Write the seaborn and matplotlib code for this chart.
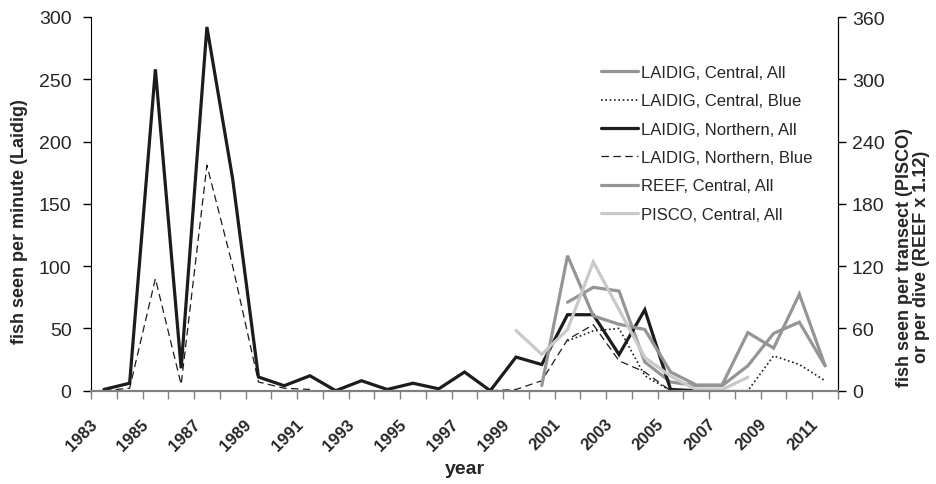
import numpy as np
import pandas as pd
import matplotlib
matplotlib.use('Agg')
import matplotlib.pyplot as plt
import matplotlib.transforms as mtransforms
from matplotlib.lines import Line2D
import seaborn as sns

# values, one per year 1983..2011 (nan = no survey)
nan = np.nan
years = list(range(1983, 2012))
laidig_central_all = [nan] * 18 + [71, 83, 80, 23, 7, 4, 4, 20, 46, 55, 20]
laidig_central_blue = [nan] * 18 + [40, 48, 50, 12, 0, 0, 0, 0, 28, 21, 8]
laidig_northern_all = [1, 6, 258, 18, 292, 170, 11, 4, 12, 0,
                       8, 1, 6, 1.5, 15, 0, 27, 21, 61, 61,
                       29, 65, 1, 0, 0, nan, nan, nan, nan]
laidig_northern_blue = [0, 2, 90, 5, 181, 100, 7, 2, 1,
                        nan, nan, nan, nan, nan, nan,
                        0, 1, 8, 41, 53, 24, 15, 0,
                        nan, nan, nan, nan, nan, nan]
# right axis (fish per transect / per dive)
reef_central_all = [nan] * 17 + [5, 130, 72, 64, 59, 18, 5.5, 5.5, 56, 41, 93, 24]
pisco_central_all = [nan] * 16 + [58, 35, 59, 124, 78, 32, 14, 1, 1, 13] + [nan] * 3

year_labels = [str(y) for y in years[::2]]


def segments(values):
    # split a series at its gaps so the line breaks there
    df = pd.DataFrame({'year': years, 'value': values})
    df['seg'] = df['value'].isna().cumsum()
    return df.dropna()


sns.set_style('white')
plt.rcParams['font.family'] = ['Liberation Sans', 'DejaVu Sans']

fig = plt.figure(figsize=(9.37, 4.85), dpi=100)
ax = fig.add_axes([91 / 937, 1 - 391.7 / 485, 747 / 937, 373.7 / 485])
ax2 = ax.twinx()

GRAY = '#959595'
LIGHT = '#c9c9c9'
DARK = '#1c1c1c'

styles = [
    ('LAIDIG, Central, All', laidig_central_all, ax, dict(color=GRAY, lw=2.3, ls='-')),
    ('LAIDIG, Central, Blue', laidig_central_blue, ax, dict(color=DARK, lw=1.2, ls=(0, (1, 1.6)))),
    ('LAIDIG, Northern, All', laidig_northern_all, ax, dict(color=DARK, lw=2.3, ls='-')),
    ('LAIDIG, Northern, Blue', laidig_northern_blue, ax, dict(color=DARK, lw=0.9, ls=(0, (6, 3.5)))),
    ('REEF, Central, All', reef_central_all, ax2, dict(color=GRAY, lw=2.3, ls='-')),
    ('PISCO, Central, All', pisco_central_all, ax2, dict(color=LIGHT, lw=2.3, ls='-')),
]

handles = []
for name, vals, a, st in styles:
    sns.lineplot(data=segments(vals), x='year', y='value', units='seg',
                 estimator=None, ax=a, color=st['color'], linewidth=st['lw'],
                 linestyle=st['ls'], solid_joinstyle='miter')
    handles.append(Line2D([], [], color=st['color'], lw=st['lw'], ls=st['ls']))

ax.set_xlim(1982.5, 2011.5)
ax.set_ylim(0, 300)
ax2.set_ylim(0, 360)
ax.set_yticks(range(0, 301, 50))
ax2.set_yticks(range(0, 361, 60))

# category-style x axis: ticks between years, labels every other year
ax.set_xticks(np.arange(1982.5, 2012, 1))
ax.set_xticklabels([])
ax.set_xticks(years[::2], minor=True)
ax.set_xticklabels(year_labels, minor=True, rotation=45, ha='right', va='center',
                   rotation_mode='anchor', fontweight='bold', fontsize=12)
ax.tick_params(axis='x', which='major', direction='out', length=6, color='#808080',
               width=1, bottom=True)
ax.tick_params(axis='x', which='minor', length=0, pad=22, bottom=True)
offset = mtransforms.ScaledTranslation(-9 / 100, 0, fig.dpi_scale_trans)
for lab in ax.get_xticklabels(minor=True):
    lab.set_transform(lab.get_transform() + offset)

ax.tick_params(axis='y', direction='out', length=6, width=1, color='black',
               labelsize=14, pad=8, left=True)
ax2.tick_params(axis='y', direction='out', length=6, width=1, color='black',
                labelsize=14, pad=4, right=True)

for a in (ax, ax2):
    a.spines['top'].set_visible(False)
    a.spines['left'].set_color('black')
    a.spines['right'].set_color('black')
    a.spines['bottom'].set_color('#808080')
    a.spines['bottom'].set_linewidth(1.5)
ax2.spines['left'].set_visible(False)

ax.set_xlabel('year', fontsize=14, fontweight='bold')
ax.xaxis.set_label_coords(0.5, -0.185)
ax.set_ylabel('fish seen per minute (Laidig)', fontsize=13, fontweight='bold')
ax.yaxis.set_label_coords(-0.085, 0.454)
ax2.set_ylabel('fish seen per transect (PISCO)\nor per dive (REEF x 1.12)',
               fontsize=13, fontweight='bold', rotation=90, linespacing=1.0)
ax2.yaxis.set_label_coords(1.077, 0.36)

ax2.legend(handles, [s[0] for s in styles], loc='upper left', frameon=False,
           bbox_to_anchor=(601 / 937, 1 - 66 / 485), bbox_transform=fig.transFigure,
           fontsize=12, handlelength=2.2, handletextpad=0.2, labelspacing=0.8,
           borderpad=0, borderaxespad=0)

fig.savefig('out.png', dpi=100)
